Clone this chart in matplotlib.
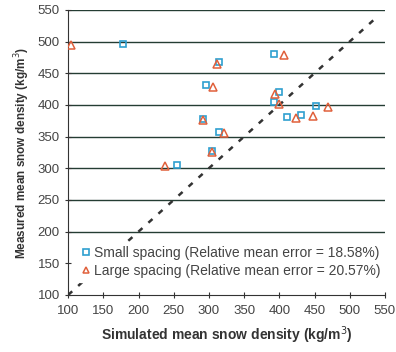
import matplotlib
matplotlib.use('Agg')
import matplotlib.pyplot as plt
import numpy as np

plt.rcParams['font.family'] = ['Liberation Sans', 'DejaVu Sans']

# data
small_sim = [178, 315, 393, 296, 399, 393, 452, 411, 431, 291, 315, 305, 254]
small_meas = [496, 468, 481, 431, 420, 404, 399, 381, 384, 377, 358, 328, 305]
large_sim = [104, 311, 407, 306, 394, 399, 469, 423, 448, 291, 321, 305, 238]
large_meas = [494, 465, 479, 429, 417, 401, 397, 379, 383, 376, 355, 326, 304]
one_to_one = [100, 540]
ticks = np.arange(100, 551, 50)
grid_levels = [200, 250, 300, 350, 400, 450, 500, 550]

fig = plt.figure(figsize=(3.96, 3.52), dpi=100)
ax = fig.add_axes([0.172, 0.162, 0.8, 0.81])

for g in grid_levels:
    ax.axhline(g, color='#243d33', lw=1.0, zorder=1)

ax.plot(one_to_one, one_to_one, color='#333333', lw=1.8, dashes=(2.2, 3.2), zorder=2)

ax.plot(small_sim, small_meas, ls='none', marker='s', ms=5, mfc='none', mec='#2f9fd0', mew=1.2,
        label='Small spacing (Relative mean error = 18.58%)', zorder=4)
ax.plot(large_sim, large_meas, ls='none', marker='^', ms=5.5, mfc='none', mec='#e0603c', mew=1.1,
        label='Large spacing (Relative mean error = 20.57%)', zorder=4)

ax.set_xlim(100, 550)
ax.set_ylim(100, 550)
ax.set_xticks(ticks)
ax.set_yticks(ticks)
ax.tick_params(direction='inout', length=5, width=0.8, labelsize=9.5, labelcolor='#444444', color='#333333')
ax.tick_params(axis='x', pad=5)
ax.spines['top'].set_visible(False)
ax.spines['right'].set_visible(False)
ax.spines['left'].set_color('#333333')
ax.spines['bottom'].set_color('#333333')

ax.set_xlabel('Simulated mean snow density (kg/m$^3$)', fontsize=10, fontweight='bold', color='#333333', labelpad=5)
ax.set_ylabel('Measured mean snow density (kg/m$^3$)', fontsize=8.5, fontweight='bold', color='#333333', labelpad=4)

leg = ax.legend(loc='lower right', bbox_to_anchor=(1.02, 0.02), fontsize=10, frameon=True, framealpha=1,
                edgecolor='white', handlelength=0.5, handletextpad=0.3, labelspacing=0.3,
                borderpad=0.3, markerscale=0.85)
leg.set_zorder(5)
for t in leg.get_texts():
    t.set_color('#444444')

fig.savefig('out.png', dpi=100)
